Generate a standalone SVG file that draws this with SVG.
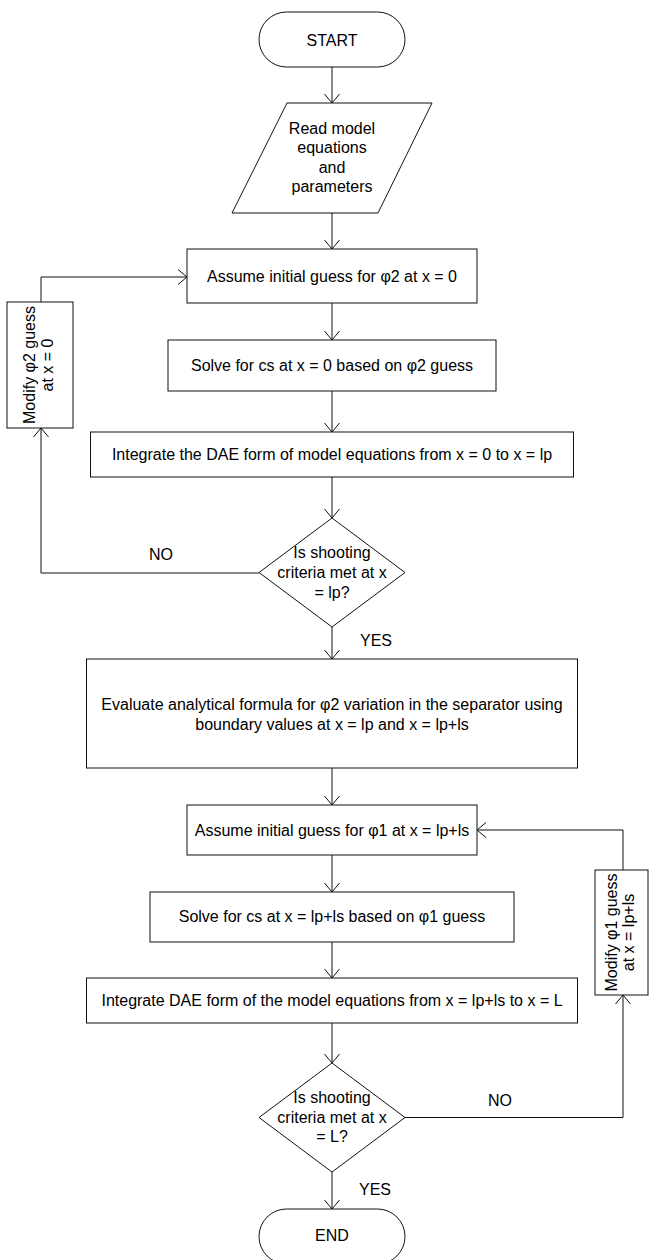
<svg xmlns="http://www.w3.org/2000/svg" width="649" height="1260" viewBox="0 0 649 1260">
<style>
  .s{fill:#fff;stroke:#111;stroke-width:1}
  .t{font-family:"Liberation Sans",Arial,sans-serif;font-size:16px;fill:#000;text-anchor:middle}
  .l{font-family:"Liberation Sans",Arial,sans-serif;font-size:16px;fill:#000}
  .c{fill:none;stroke:#111;stroke-width:1}
</style>
<defs>
  <marker id="arr" viewBox="-10 -9 11 18" refX="0" refY="0" markerWidth="11" markerHeight="18" markerUnits="userSpaceOnUse" orient="auto">
    <path d="M-9,-7.5 L0,0 L-9,7.5" fill="none" stroke="#111" stroke-width="1"/>
  </marker>
</defs>
<rect width="649" height="1260" fill="#fff"/>

<g id="connectors">
  <line class="c" x1="332" y1="67" x2="332" y2="103" marker-end="url(#arr)"/>
  <line class="c" x1="332" y1="213" x2="332" y2="249" marker-end="url(#arr)"/>
  <line class="c" x1="332" y1="303" x2="332" y2="340" marker-end="url(#arr)"/>
  <line class="c" x1="332" y1="391" x2="332" y2="432" marker-end="url(#arr)"/>
  <line class="c" x1="332" y1="477" x2="332" y2="518" marker-end="url(#arr)"/>
  <line class="c" x1="332" y1="627" x2="332" y2="659" marker-end="url(#arr)"/>
  <line class="c" x1="332" y1="768" x2="332" y2="805" marker-end="url(#arr)"/>
  <line class="c" x1="332" y1="855" x2="332" y2="892" marker-end="url(#arr)"/>
  <line class="c" x1="332" y1="942" x2="332" y2="978" marker-end="url(#arr)"/>
  <line class="c" x1="332" y1="1023" x2="332" y2="1063" marker-end="url(#arr)"/>
  <line class="c" x1="332" y1="1172" x2="332" y2="1209" marker-end="url(#arr)"/>
  <polyline class="c" points="259,573 41,573 41,428" marker-end="url(#arr)"/>
  <polyline class="c" points="41,302 41,277 187,277" marker-end="url(#arr)"/>
  <polyline class="c" points="405,1117.5 623,1117.5 623,995" marker-end="url(#arr)"/>
  <polyline class="c" points="623,870 623,830 477,830" marker-end="url(#arr)"/>
  <text class="l" x="149" y="560">NO</text>
  <text class="l" x="360" y="646">YES</text>
  <text class="l" x="488" y="1106">NO</text>
  <text class="l" x="359" y="1195">YES</text>
</g>

<g id="start">
  <rect class="s" x="259" y="12" width="146" height="55" rx="27.5" ry="27.5"/>
  <text class="t" x="332" y="45.5">START</text>
</g>

<g id="read">
  <polygon class="s" points="287,103 432,103 378,213 232,213"/>
  <text class="t" x="332" y="133.5">Read model</text>
  <text class="t" x="332" y="153">equations</text>
  <text class="t" x="332" y="172.5">and</text>
  <text class="t" x="332" y="192">parameters</text>
</g>

<g id="assume-phi2">
  <rect class="s" x="187" y="249" width="290" height="54"/>
  <text class="t" x="332" y="282">Assume initial guess for φ2 at x = 0</text>
</g>

<g id="solve-cs-0">
  <rect class="s" x="168" y="340" width="328" height="51"/>
  <text class="t" x="332" y="371">Solve for cs at x = 0 based on φ2 guess</text>
</g>

<g id="integrate-0-lp">
  <rect class="s" x="90.5" y="432" width="483" height="45"/>
  <text class="t" x="332" y="459.5">Integrate the DAE form of model equations from x = 0 to x = lp</text>
</g>

<g id="check-lp">
  <polygon class="s" points="332,518 405,572.5 332,627 259,572.5"/>
  <text class="t" x="332" y="558">Is shooting</text>
  <text class="t" x="332" y="578">criteria met at x</text>
  <text class="t" x="332" y="598">= lp?</text>
</g>

<g id="modify-phi2">
  <rect class="s" x="7" y="302" width="66" height="126"/>
  <g transform="translate(38,365) rotate(-90)">
    <text class="t" x="0" y="-3.5">Modify φ2 guess</text>
    <text class="t" x="0" y="14.5">at x = 0</text>
  </g>
</g>

<g id="evaluate">
  <rect class="s" x="86.5" y="659" width="491" height="109"/>
  <text class="t" x="332" y="710">Evaluate analytical formula for φ2 variation in the separator using</text>
  <text class="t" x="332" y="729.5">boundary values at x = lp and x = lp+ls</text>
</g>

<g id="assume-phi1">
  <rect class="s" x="187" y="805" width="290" height="50"/>
  <text class="t" x="332" y="836">Assume initial guess for φ1 at x = lp+ls</text>
</g>

<g id="solve-cs-lpls">
  <rect class="s" x="150" y="892" width="364" height="50"/>
  <text class="t" x="332" y="922">Solve for cs at x = lp+ls based on φ1 guess</text>
</g>

<g id="integrate-lpls-L">
  <rect class="s" x="86.5" y="978" width="491" height="45"/>
  <text class="t" x="332" y="1006">Integrate DAE form of the model equations from x = lp+ls to x = L</text>
</g>

<g id="check-L">
  <polygon class="s" points="332,1063 405,1117.5 332,1172 259,1117.5"/>
  <text class="t" x="332" y="1103">Is shooting</text>
  <text class="t" x="332" y="1122.5">criteria met at x</text>
  <text class="t" x="332" y="1142">= L?</text>
</g>

<g id="modify-phi1">
  <rect class="s" x="595" y="870" width="53" height="125"/>
  <g transform="translate(620,932.5) rotate(-90)">
    <text class="t" x="0" y="-3">Modify φ1 guess</text>
    <text class="t" x="0" y="14">at x = lp+ls</text>
  </g>
</g>

<g id="end">
  <rect class="s" x="259" y="1209" width="146" height="55" rx="27.5" ry="27.5"/>
  <text class="t" x="332" y="1241">END</text>
</g>
</svg>
